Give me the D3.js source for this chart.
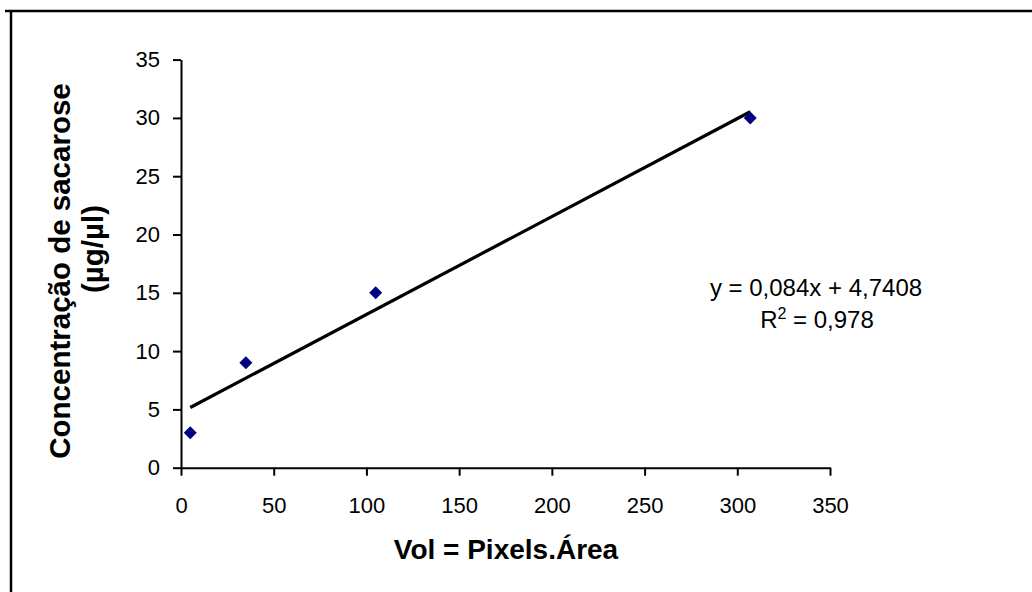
<!DOCTYPE html>
<html>
<head>
<meta charset="utf-8">
<script src="https://cdn.jsdelivr.net/npm/d3@7"></script>
<style>
  html, body { margin: 0; padding: 0; background: #ffffff; }
  svg { display: block; font-family: "Liberation Sans", Arial, sans-serif; }
</style>
</head>
<body>
<svg id="chart" width="1032" height="592"></svg>
<script>
// Calibration points: image volume (pixels x area) vs sucrose concentration
const volumes = [5, 35, 105, 307];
const concentrations = [3, 9, 15, 30];

// Axis ticks
const xTicks = [0, 50, 100, 150, 200, 250, 300, 350];
const yTicks = [0, 5, 10, 15, 20, 25, 30, 35];

// Linear fit reported on the chart
const slope = 0.084;
const intercept = 4.7408;
const rSquared = 0.978;

const fmt = v => String(v).replace(".", ",");

const svg = d3.select("#chart");

// Outer frame (top and left edges)
svg.append("line")
  .attr("x1", 5).attr("x2", 1032).attr("y1", 11).attr("y2", 11)
  .attr("stroke", "#000").attr("stroke-width", 2.5);
svg.append("line")
  .attr("x1", 11).attr("x2", 11).attr("y1", 10).attr("y2", 592)
  .attr("stroke", "#000").attr("stroke-width", 2.5);

const x = d3.scaleLinear().domain([0, 350]).range([181, 830]);
const y = d3.scaleLinear().domain([0, 35]).range([467.7, 59.6]);

// Axes
const xAxis = svg.append("g")
  .attr("transform", `translate(0,${y(0)})`)
  .call(d3.axisBottom(x).tickValues(xTicks).tickSize(8).tickSizeOuter(0).tickPadding(22)
    .tickFormat(d => d));
const yAxis = svg.append("g")
  .attr("transform", `translate(${x(0)},0)`)
  .call(d3.axisLeft(y).tickValues(yTicks).tickSize(8).tickSizeOuter(0).tickPadding(13)
    .tickFormat(d => d));

[xAxis, yAxis].forEach(g => {
  g.select(".domain").attr("stroke", "#000").attr("stroke-width", 2);
  g.selectAll(".tick line").attr("stroke", "#000").attr("stroke-width", 2);
  g.selectAll(".tick text")
    .attr("fill", "#000")
    .style("font-family", "'Liberation Sans', Arial, sans-serif")
    .style("font-size", "22px");
});

// Trend line over the range of the measured volumes
const xMin = d3.min(volumes), xMax = d3.max(volumes);
svg.append("line")
  .attr("x1", x(xMin)).attr("y1", y(slope * xMin + intercept))
  .attr("x2", x(xMax)).attr("y2", y(slope * xMax + intercept))
  .attr("stroke", "#000").attr("stroke-width", 3.2);

// Data markers: diamonds
const diamond = {
  draw(ctx, size) {
    const r = Math.sqrt(size) / 2;
    ctx.moveTo(0, -r); ctx.lineTo(r, 0); ctx.lineTo(0, r); ctx.lineTo(-r, 0); ctx.closePath();
  }
};
const points = volumes.map((v, i) => ({ v, c: concentrations[i] }));
svg.append("g").selectAll("path")
  .data(points)
  .join("path")
  .attr("d", d3.symbol(diamond, 169))
  .attr("transform", d => `translate(${x(d.v)},${y(d.c)})`)
  .attr("fill", "#000080");

// Equation and R²
const eq = svg.append("g")
  .attr("font-size", 24)
  .attr("fill", "#000")
  .attr("text-anchor", "middle");
eq.append("text")
  .attr("x", 816).attr("y", 296)
  .text(`y = ${fmt(slope)}x + ${fmt(intercept)}`);
const r2 = eq.append("text").attr("x", 817).attr("y", 328);
r2.append("tspan").text("R");
r2.append("tspan").attr("dy", -9).attr("font-size", 16).text("2");
r2.append("tspan").attr("dy", 9).text(` = ${fmt(rSquared)}`);

// Axis titles
svg.append("text")
  .attr("x", 506).attr("y", 559)
  .attr("text-anchor", "middle")
  .attr("font-size", 28).attr("font-weight", "bold")
  .text("Vol = Pixels.Área");

const yTitle = svg.append("text")
  .attr("transform", "translate(70,0) rotate(-90)")
  .attr("text-anchor", "middle")
  .attr("font-size", 29.5).attr("font-weight", "bold");
yTitle.append("tspan").attr("x", -271).attr("y", 0).text("Concentração de sacarose");
yTitle.append("tspan").attr("x", -249).attr("y", 33).text("(µg/µl)");
</script>
</body>
</html>
